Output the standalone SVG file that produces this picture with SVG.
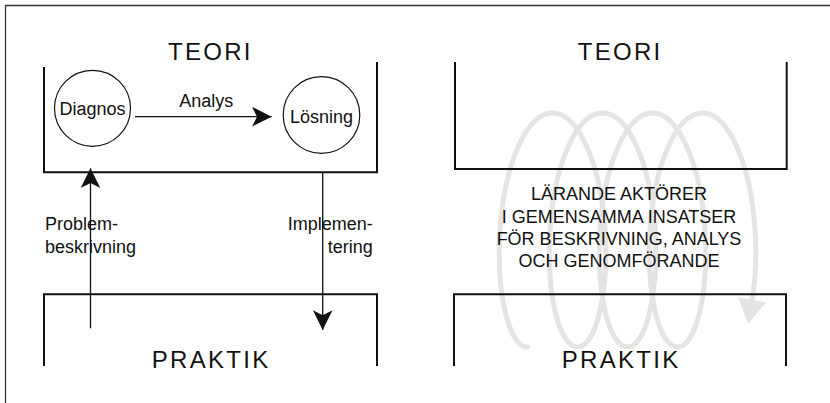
<svg xmlns="http://www.w3.org/2000/svg" width="830" height="403" viewBox="0 0 830 403">
  <style>
    text { font-family: "Liberation Sans", Arial, Helvetica, sans-serif; fill: #111; }
    .big { font-size: 24px; letter-spacing: 2.3px; }
    .lbl { font-size: 18px; }
    .bracket { fill: none; stroke: #111; stroke-width: 2; }
    .circ { fill: #fff; stroke: #111; stroke-width: 1.2; }
    .conn { fill: none; stroke: #111; stroke-width: 1.3; }
    .spiral { fill: none; stroke: #e4e5e3; stroke-width: 5; stroke-linecap: round; }
  </style>
  <defs>
    <marker id="arr" markerUnits="userSpaceOnUse" markerWidth="24" markerHeight="24" viewBox="-20 -10 22 20" refX="0" refY="0" orient="auto">
      <path d="M0,0 L-18,-9 L-13.5,0 L-18,9 Z" fill="#111"/>
    </marker>
  </defs>
  <rect width="830" height="403" fill="#fff"/>

  <!-- outer frame -->
  <path d="M5.5,403 V5.5 H830" fill="none" stroke="#333" stroke-width="1.3"/>

  <!-- spiral (right panel background) -->
  <g id="spiral" transform="translate(-3,0)">
    <path class="spiral" d="M530.5,347
      C512.58,347 498.83,294.62 503,230
      C507.17,165.38 529.24,113 555.5,113
      C581.76,113 603.83,165.38 608,230
      C612.17,294.62 598.42,347 580.5,347
      C562.58,347 548.83,294.62 553,230
      C557.17,165.38 579.24,113 605.5,113
      C631.76,113 653.83,165.38 658,230
      C662.17,294.62 648.42,347 630.5,347
      C612.58,347 598.83,294.62 603,230
      C607.17,165.38 629.24,113 655.5,113
      C681.76,113 703.83,165.38 708,230
      C712.17,294.62 698.42,347 680.5,347
      C662.58,347 648.83,294.62 653,230
      C657.17,165.38 679.24,113 705.5,113
      C731.76,113 753.83,165.38 758,230
      C759.7,255.1 758.5,279.9 755.1,300"/>
    <path d="M768.9,302.4 L751.1,323.7 L741.3,297.6 Z" fill="#e4e5e3"/>
  </g>

  <!-- left panel -->
  <g id="teori-left">
    <path class="bracket" d="M44,67 V172.3 H377 V62"/>
    <text class="big" x="168" y="60">TEORI</text>
  </g>
  <g id="praktik-left">
    <path class="bracket" d="M44,366 V294.3 H377 V366"/>
    <text class="big" x="151.7" y="368">PRAKTIK</text>
  </g>
  <g id="diagnos">
    <circle class="circ" cx="92.5" cy="108.3" r="38"/>
    <text class="lbl" x="92.5" y="114.5" text-anchor="middle">Diagnos</text>
  </g>
  <g id="losning">
    <circle class="circ" cx="321.5" cy="115" r="38.3"/>
    <text class="lbl" x="321.5" y="122.7" text-anchor="middle">Lösning</text>
  </g>

  <!-- connectors -->
  <g id="connectors">
    <line class="conn" x1="135" y1="116.7" x2="271.7" y2="116.7" marker-end="url(#arr)"/>
    <line class="conn" x1="90.5" y1="328.3" x2="90.5" y2="168.3" marker-end="url(#arr)"/>
    <line class="conn" x1="322.7" y1="172.3" x2="322.7" y2="330" marker-end="url(#arr)"/>
  </g>

  <g id="connector-labels">
    <text class="lbl" x="206.2" y="106.7" text-anchor="middle">Analys</text>
    <text class="lbl" x="45" y="230">Problem-</text>
    <text class="lbl" x="45" y="252.7">beskrivning</text>
    <text class="lbl" x="372.7" y="230" text-anchor="end">Implemen-</text>
    <text class="lbl" x="372.7" y="252.7" text-anchor="end">tering</text>
  </g>

  <!-- right panel -->
  <g id="teori-right">
    <path class="bracket" d="M455,62 V169 H786.7 V62"/>
    <text class="big" x="577.7" y="60">TEORI</text>
  </g>
  <g id="praktik-right">
    <path class="bracket" d="M454,366 V294.3 H786 V366"/>
    <text class="big" x="561.7" y="368">PRAKTIK</text>
  </g>
  <g id="center-text">
    <text class="lbl" x="619" y="200.3" text-anchor="middle">LÄRANDE AKTÖRER</text>
    <text class="lbl" x="619" y="222.7" text-anchor="middle">I GEMENSAMMA INSATSER</text>
    <text class="lbl" x="619" y="245" text-anchor="middle">FÖR BESKRIVNING, ANALYS</text>
    <text class="lbl" x="619" y="267.4" text-anchor="middle">OCH GENOMFÖRANDE</text>
  </g>
</svg>
